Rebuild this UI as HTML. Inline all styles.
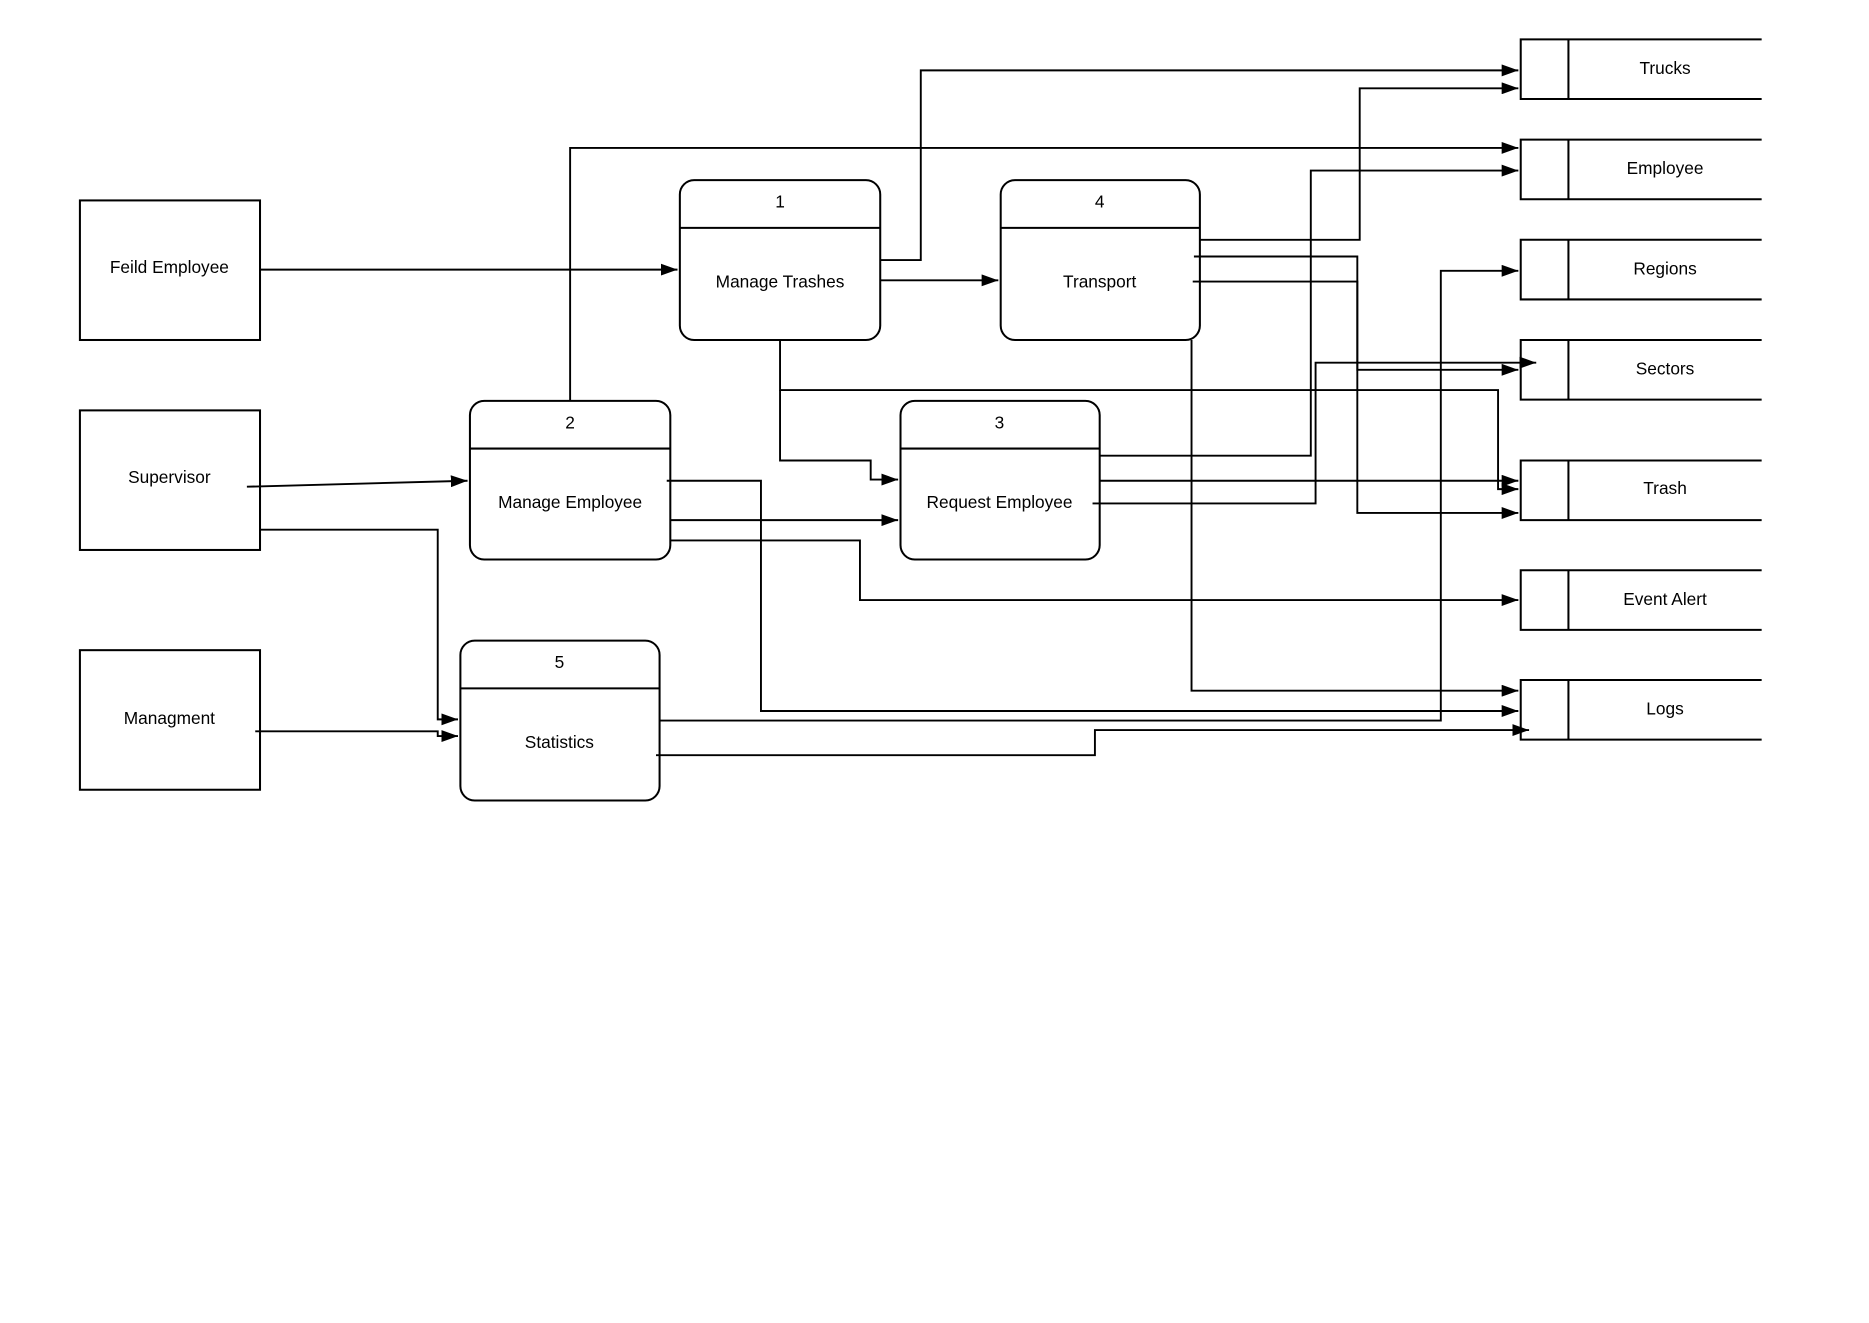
<!DOCTYPE html>
<html><head><meta charset="utf-8"><style>
html,body{margin:0;padding:0;background:#fff;}
svg{display:block}
text{font-family:"Liberation Sans",sans-serif;font-size:14.5px;fill:#000;text-anchor:middle}
</style></head><body>
<svg width="1869" height="1323" viewBox="0 0 1567 1109" preserveAspectRatio="none" xmlns="http://www.w3.org/2000/svg">
<defs><marker id="a" markerWidth="14" markerHeight="10" refX="14" refY="5" orient="auto" markerUnits="userSpaceOnUse"><path d="M0,0 L14,5 L0,10 Z" fill="#000"/></marker></defs>
<g fill="none" stroke="#000" stroke-width="1.7">
<rect x="67" y="168" width="151" height="117"/>
<rect x="67" y="344" width="151" height="117"/>
<rect x="67" y="545" width="151" height="117"/>
<rect x="570" y="151" width="168" height="134" rx="12"/><line x1="570" y1="191" x2="738" y2="191"/>
<rect x="839" y="151" width="167" height="134" rx="12"/><line x1="839" y1="191" x2="1006" y2="191"/>
<rect x="394" y="336" width="168" height="133" rx="12"/><line x1="394" y1="376" x2="562" y2="376"/>
<rect x="755" y="336" width="167" height="133" rx="12"/><line x1="755" y1="376" x2="922" y2="376"/>
<rect x="386" y="537" width="167" height="134" rx="12"/><line x1="386" y1="577" x2="553" y2="577"/>
<path d="M1477,33 H1275 V83 H1477 M1315,33 V83"/>
<path d="M1477,117 H1275 V167 H1477 M1315,117 V167"/>
<path d="M1477,201 H1275 V251 H1477 M1315,201 V251"/>
<path d="M1477,285 H1275 V335 H1477 M1315,285 V335"/>
<path d="M1477,386 H1275 V436 H1477 M1315,386 V436"/>
<path d="M1477,478 H1275 V528 H1477 M1315,478 V528"/>
<path d="M1477,570 H1275 V620 H1477 M1315,570 V620"/>
</g>
<g fill="none" stroke="#000" stroke-width="1.6" marker-end="url(#a)">
<path d="M218,226 H568"/>
<path d="M738,218 H772 V59 H1273"/>
<path d="M478,336 V124 H1273"/>
<path d="M738,235 H837"/>
<path d="M1006,201 H1140 V74 H1273"/>
<path d="M922,382 H1099 V143 H1273"/>
<path d="M1001,215 H1138 V430 H1273"/>
<path d="M1000,236 H1138 V310 H1273"/>
<path d="M916,422 H1103 V304 H1288"/>
<path d="M654,285 V327 H1256 V410 H1273"/>
<path d="M654,327 V386 H730 V402 H753"/>
<path d="M922,403 H1273"/>
<path d="M999,285 V579 H1273"/>
<path d="M207,408 L392,403"/>
<path d="M218,444 H367 V603 H384"/>
<path d="M214,613 H367 V617 H384"/>
<path d="M562,436 H753"/>
<path d="M559,403 H638 V596 H1273"/>
<path d="M562,453 H721 V503 H1273"/>
<path d="M553,604 H1208 V227 H1273"/>
<path d="M550,633 H918 V612 H1282"/>
</g>
<text x="142" y="229">Feild Employee</text>
<text x="142" y="405">Supervisor</text>
<text x="142" y="607">Managment</text>
<text x="654" y="174">1</text><text x="654" y="241">Manage Trashes</text>
<text x="922" y="174">4</text><text x="922" y="241">Transport</text>
<text x="478" y="359">2</text><text x="478" y="426">Manage Employee</text>
<text x="838" y="359">3</text><text x="838" y="426">Request Employee</text>
<text x="469" y="560">5</text><text x="469" y="627">Statistics</text>
<text x="1396" y="62">Trucks</text>
<text x="1396" y="146">Employee</text>
<text x="1396" y="230">Regions</text>
<text x="1396" y="314">Sectors</text>
<text x="1396" y="414">Trash</text>
<text x="1396" y="507">Event Alert</text>
<text x="1396" y="599">Logs</text>
</svg>
</body></html>
